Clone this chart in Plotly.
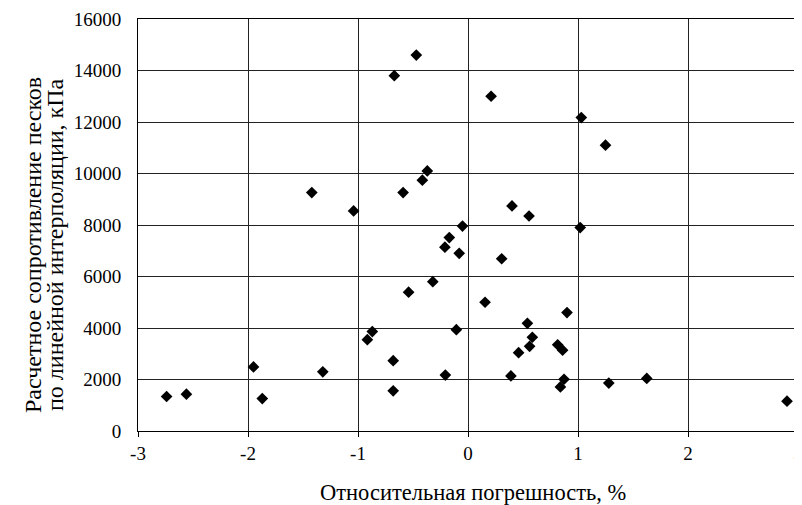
import plotly.graph_objects as go

rel_error = [-0.47, -0.67, 0.21, 1.03, 1.25, -0.37, -0.415, -1.42, -0.59, -1.04,
             0.40, 0.555, -0.05, 1.02, -0.17, -0.21, -0.08, 0.306, -0.32, -0.54,
             0.155, 0.90, 0.54, -0.106, -0.87, -0.915, 0.585, 0.56, 0.46, 0.815,
             0.86, -0.68, -1.95, -1.32, -0.206, 0.39, 0.873, 1.625, 1.28, 0.84,
             -0.68, -2.56, -2.74, -1.87, 2.90]
resistance = [14600, 13800, 13000, 12170, 11100, 10100, 9740, 9260, 9260, 8545,
              8740, 8350, 7960, 7900, 7510, 7140, 6900, 6690, 5800, 5390,
              5000, 4600, 4180, 3935, 3860, 3545, 3640, 3290, 3040, 3350,
              3140, 2730, 2490, 2300, 2170, 2140, 2010, 2040, 1860, 1710,
              1560, 1430, 1340, 1260, 1160]

x_ticks = [-3, -2, -1, 0, 1, 2, 3]
y_ticks = [0, 2000, 4000, 6000, 8000, 10000, 12000, 14000, 16000]

x_title = "Относительная погрешность, %"
y_title_lines = ["Расчетное сопротивление песков", "по линейной интерполяции, кПа"]

font = "Liberation Serif, Times New Roman, serif"
OFF = 8  # page body margin
W, H = 802 - OFF, 505 - OFF
# target plot box in screenshot pixels: x 138..798, y 19..431
L = 138 - OFF
T = 19 - OFF
R = W - (798 - OFF)
B = H - (431 - OFF)
pw, ph = W - L - R, H - T - B


def px_to_paper_x(sx):
    return (sx - OFF - L) / pw


def px_to_paper_y(sy):
    return (H - B - (sy - OFF)) / ph


fig = go.Figure(go.Scatter(
    x=rel_error, y=resistance, mode="markers",
    marker=dict(symbol="diamond", size=9, color="black"),
    showlegend=False, cliponaxis=False,
))

axis_common = dict(
    showgrid=True, gridcolor="#222", gridwidth=1,
    showline=True, linecolor="black", linewidth=1, mirror=True,
    zeroline=False, automargin=False, ticklabeloverflow="allow",
    tickfont=dict(family=font, size=19, color="black"),
)

fig.update_xaxes(range=[-3.00001, 3.00001], tickvals=x_ticks, ticktext=[str(v) for v in x_ticks],
                 ticks="outside", ticklen=5, tickcolor="black", **axis_common)
fig.update_yaxes(range=[0, 16000], tickvals=y_ticks, ticktext=[str(v) for v in y_ticks],
                 ticks="", ticklabelstandoff=12, **axis_common)

annotations = [
    dict(text=x_title, xref="paper", yref="paper",
         x=px_to_paper_x(473), y=px_to_paper_y(492), xanchor="center", yanchor="middle",
         showarrow=False, font=dict(family=font, size=22.5, color="black")),
]
for cx, line in zip([33, 55], y_title_lines):
    annotations.append(dict(text=line, xref="paper", yref="paper",
                            x=px_to_paper_x(cx), y=px_to_paper_y(245),
                            xanchor="center", yanchor="middle", textangle=-90,
                            showarrow=False, font=dict(family=font, size=24, color="black")))

fig.update_layout(
    width=W, height=H,
    margin=dict(l=L, r=R, t=T, b=B),
    plot_bgcolor="white", paper_bgcolor="white",
    font=dict(family=font, color="black"),
    annotations=annotations,
)

fig.write_html("out.html")
